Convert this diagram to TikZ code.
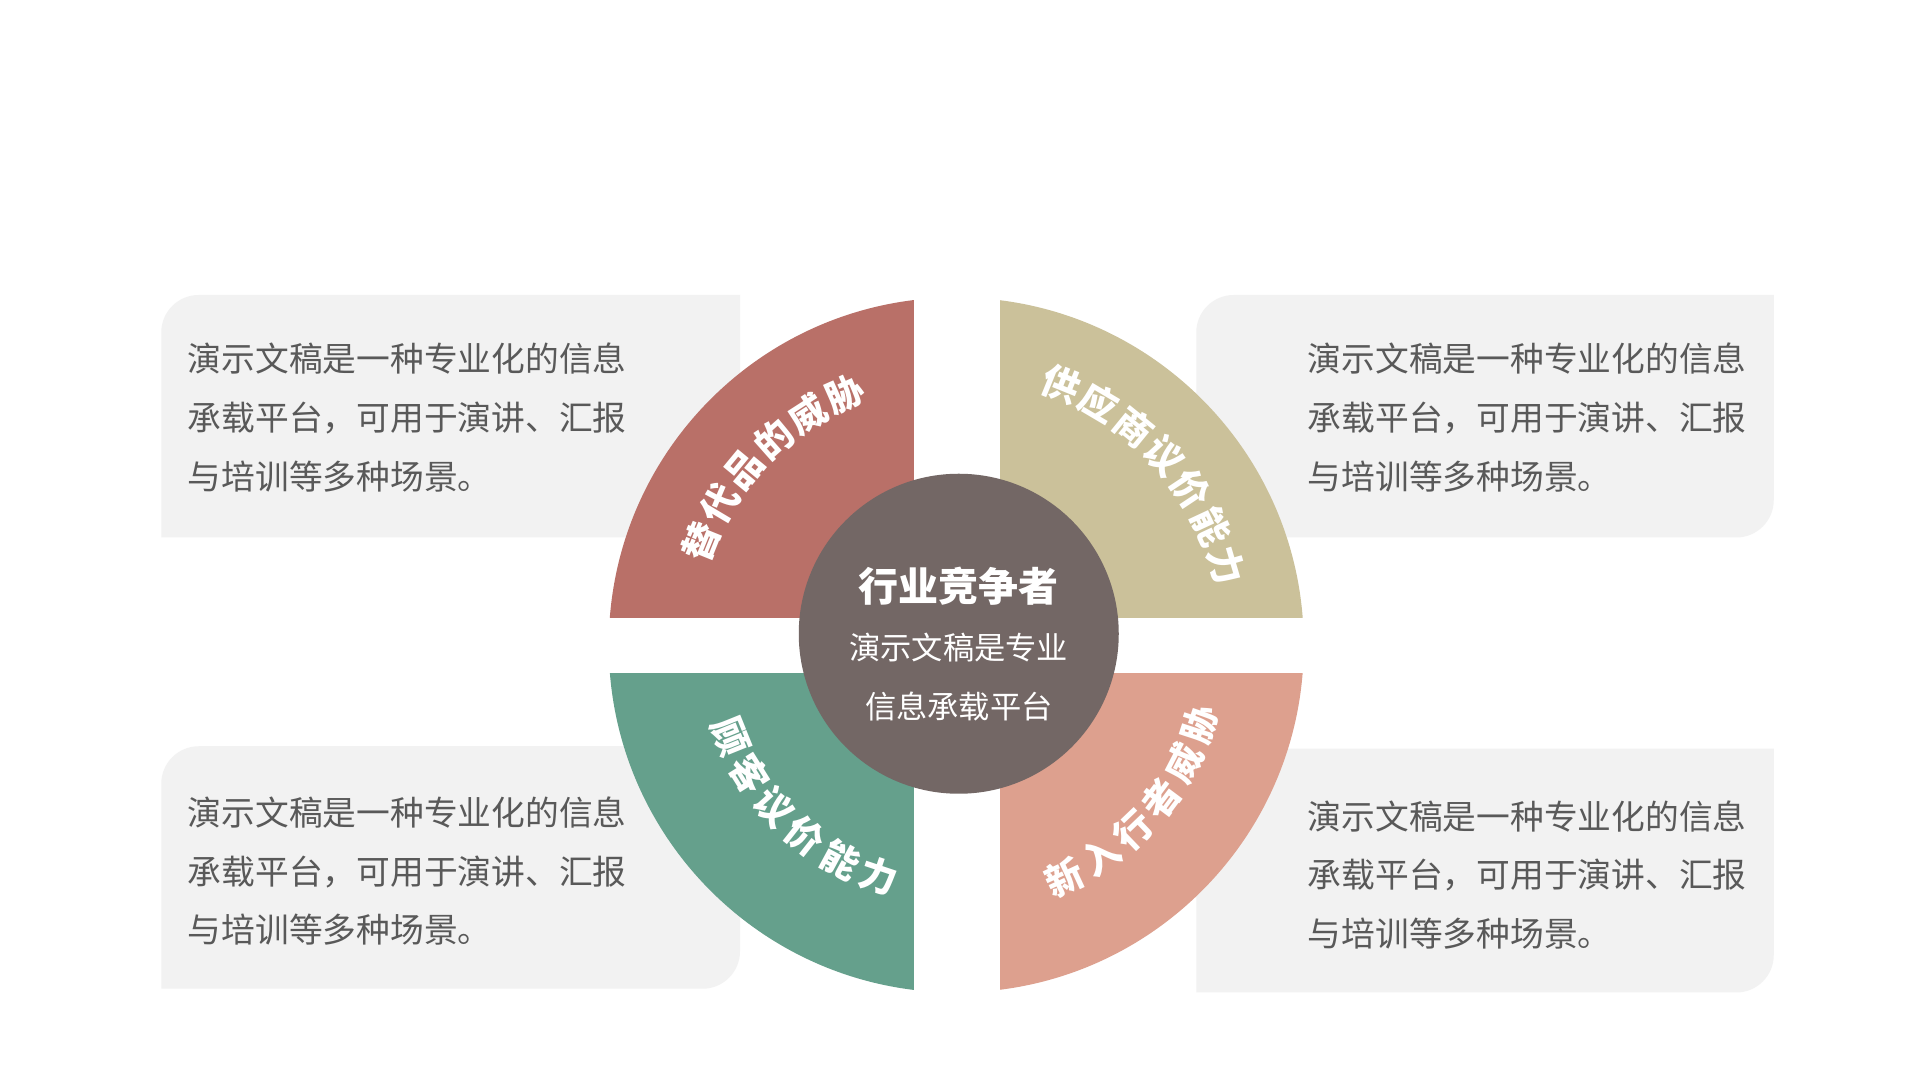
\documentclass[tikz,border=0pt]{standalone}
\usepackage{fontspec}
\usetikzlibrary{calc}
\setmainfont{Noto Sans CJK SC}
\definecolor{cred}{HTML}{B97068}
\definecolor{ctan}{HTML}{CBC19A}
\definecolor{cgreen}{HTML}{65A08C}
\definecolor{csal}{HTML}{DDA08E}
\definecolor{cmid}{HTML}{736765}
\definecolor{cbox}{HTML}{F2F2F2}
\definecolor{ctext}{HTML}{595959}
\tikzset{
 body/.style={anchor=west,align=left,text=ctext,font=\fontsize{27}{47}\selectfont,inner sep=0pt},
 arcch/.style={text=white,font=\fontsize{30}{30}\selectfont\bfseries,inner sep=0pt},
}
\newcommand{\mybox}[4]{\fill[cbox] (#1,#3) -- (#1,#4-30) arc[start angle=180,end angle=90,radius=30] -- (#2,#4) -- (#2,#3+30) arc[start angle=0,end angle=-90,radius=30] -- cycle;}
\begin{document}
\begin{tikzpicture}[x=1pt,y=1pt]
\useasboundingbox (0,0) rectangle (1536,864);
\fill[white] (0,0) rectangle (1536,864);
\begin{scope}[yshift=-9pt]
\mybox{129}{592}{443}{637}
\mybox{957}{1419}{443}{637}
\mybox{129}{592}{82}{276}
\mybox{957}{1419}{79}{274}
\begin{scope}\clip (400,379) rectangle (731,700); \fill[cred] (765,357) circle[radius=278];\end{scope}
\begin{scope}\clip (800,379) rectangle (1100,700); \fill[ctan] (765,357) circle[radius=278];\end{scope}
\begin{scope}\clip (400,0) rectangle (731,334); \fill[cgreen] (765,357) circle[radius=278];\end{scope}
\begin{scope}\clip (800,0) rectangle (1100,334); \fill[csal] (765,357) circle[radius=278];\end{scope}
\node[circle,fill=cmid,minimum size=256pt,inner sep=0pt] (mid) at (767,366) {};
\node[text=white,font=\fontsize{32}{32}\selectfont\bfseries] (t0) at (767,404) {行业竞争者};
\node[text=white,font=\fontsize{25}{25}\selectfont] (t1) at (767,355) {演示文稿是专业};
\node[text=white,font=\fontsize{25}{25}\selectfont] (t2) at (767,308) {信息承载平台};
\node[body] (b1) at (150,539) {演示文稿是一种专业化的信息\\承载平台，可用于演讲、汇报\\与培训等多种场景。};
\node[body] (b2) at (1046,539) {演示文稿是一种专业化的信息\\承载平台，可用于演讲、汇报\\与培训等多种场景。};
\node[body] (b3) at (150,176) {演示文稿是一种专业化的信息\\承载平台，可用于演讲、汇报\\与培训等多种场景。};
\node[body] (b4) at (1046,173) {演示文稿是一种专业化的信息\\承载平台，可用于演讲、汇报\\与培训等多种场景。};
\foreach \c [count=\i] in {替,代,品,的,威,胁}{
 \pgfmathsetmacro\a{158-(\i-1)*8.8}
 \node[arcch,rotate=\a-90] (q1\i) at ($(765,357)+(\a:220)$) {\c};}
\foreach \c [count=\i] in {供,应,商,议,价,能,力}{
 \pgfmathsetmacro\a{68-(\i-1)*8.6}
 \node[arcch,rotate=\a-90] (q2\i) at ($(765,357)+(\a:225)$) {\c};}
\foreach \c [count=\i] in {顾,客,议,价,能,力}{
 \pgfmathsetmacro\a{202+(\i-1)*9.9}
 \node[arcch,rotate=\a+90] (q3\i) at ($(765,357)+(\a:195)$) {\c};}
\foreach \c [count=\i] in {新,入,行,者,威,胁}{
 \pgfmathsetmacro\a{295+(\i-1)*9.4}
 \node[arcch,rotate=\a+90] (q4\i) at ($(765,357)+(\a:205)$) {\c};}
\end{scope}
\end{tikzpicture}
\end{document}
